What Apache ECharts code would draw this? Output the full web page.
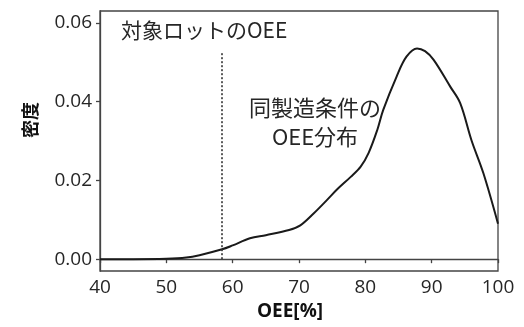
<!DOCTYPE html>
<html>
<head>
<meta charset="utf-8">
<script src="https://cdn.jsdelivr.net/npm/echarts@6/dist/echarts.min.js"></script>
<style>
  html, body { margin: 0; padding: 0; background: #fff; }
  #chart { width: 524px; height: 327px; }
</style>
</head>
<body>
<div id="chart"></div>
<script>
// Kernel density estimate of OEE for lots made under the same conditions
const oeeValues = [40, 45, 50, 53, 55, 58.4, 60, 62.6, 65, 68.5, 70.2, 72.2, 74.2, 75.8, 77.8, 79.3, 80.5, 81.8, 82.7, 84.7, 86.2, 87.8, 89, 90.3, 92.8, 94.3, 96, 97.8, 100];
const densityValues = [0, 0, 0.0001, 0.0004, 0.001, 0.0025, 0.0035, 0.0053, 0.0061, 0.0074, 0.0086, 0.0116, 0.015, 0.0178, 0.0209, 0.0235, 0.027, 0.0328, 0.0379, 0.0463, 0.0514, 0.0535, 0.0528, 0.0506, 0.0438, 0.0396, 0.0302, 0.0218, 0.009];

// OEE of the lot under inspection (dotted marker)
const targetLotOee = 58.4;
const targetLineTop = 0.0526;

const xTicks = [40, 50, 60, 70, 80, 90, 100];
const yTicks = [0, 0.02, 0.04, 0.06];

const fontLatin = '"Open Sans", "Noto Sans", "Noto Sans CJK JP", sans-serif';
const fontCJK = '"Noto Sans CJK JP", "Noto Sans", sans-serif';
const ink = '#262626';

const chart = echarts.init(document.getElementById('chart'), null, { renderer: 'canvas' });

chart.setOption({
  animation: false,
  backgroundColor: '#fff',
  grid: {
    left: 100, right: 26, top: 11, bottom: 56,
    show: true, borderColor: '#444', borderWidth: 1.3, backgroundColor: 'transparent'
  },
  xAxis: {
    type: 'value',
    min: 40, max: 100, interval: 10,
    axisLine: { show: true, lineStyle: { color: '#444', width: 1.3 } },
    axisTick: { show: true, length: 4, lineStyle: { color: '#444', width: 1.3 } },
    axisLabel: {
      margin: 7, color: ink, fontSize: 19, fontFamily: fontLatin,
      customValues: xTicks, formatter: v => String(v)
    },
    splitLine: { show: false }
  },
  yAxis: {
    type: 'value',
    min: -0.003, max: 0.063,
    axisLine: { show: true, lineStyle: { color: '#444', width: 1.3 } },
    axisTick: { show: true, length: 4, customValues: yTicks, lineStyle: { color: '#444', width: 1.3 } },
    axisLabel: {
      margin: 8, color: ink, fontSize: 19, fontFamily: fontLatin,
      customValues: yTicks, formatter: v => v.toFixed(2)
    },
    splitLine: { show: false }
  },
  series: [{
    type: 'line',
    data: oeeValues.map((x, i) => [x, densityValues[i]]),
    smooth: 0.35,
    showSymbol: false,
    lineStyle: { color: '#1a1a1a', width: 2 },
    markLine: {
      silent: true,
      symbol: 'none',
      label: { show: false },
      lineStyle: { color: '#333', type: [2, 2], width: 1.6 },
      data: [[{ coord: [targetLotOee, 0] }, { coord: [targetLotOee, targetLineTop] }]]
    }
  }],
  graphic: [
    {
      type: 'text', left: 121, top: 20,
      style: { text: '対象ロットのOEE', fontSize: 21, fontFamily: fontCJK, fill: ink }
    },
    {
      type: 'text', x: 315, y: 122,
      style: {
        text: '同製造条件の\nOEE分布', fontSize: 22, lineHeight: 29,
        fontFamily: fontCJK, fill: ink, align: 'center', verticalAlign: 'middle'
      }
    },
    {
      type: 'text', x: 30, y: 120, rotation: Math.PI / 2,
      style: {
        text: '密度', fontSize: 18, fontWeight: 'bold', fontFamily: fontCJK,
        fill: '#111', align: 'center', verticalAlign: 'middle'
      }
    },
    {
      type: 'text', x: 290, y: 312,
      style: {
        text: 'OEE[%]', fontSize: 19, fontWeight: 'bold', fontFamily: fontLatin,
        fill: '#111', align: 'center', verticalAlign: 'middle'
      }
    }
  ]
});
</script>
</body>
</html>
